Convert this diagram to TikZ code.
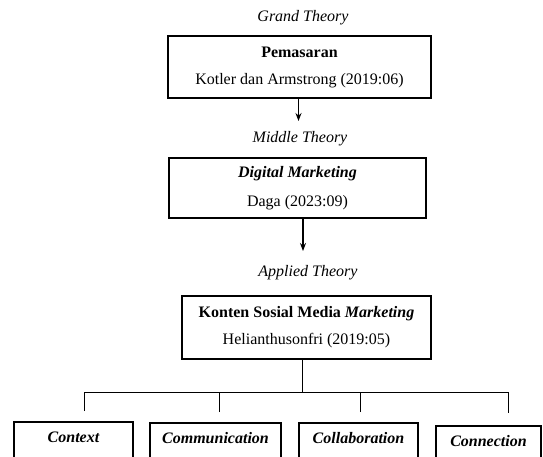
\documentclass[tikz,border=0pt]{standalone}
\usepackage{fontspec}
\setmainfont{Liberation Serif}
\usetikzlibrary{arrows.meta}
\begin{document}
\begin{tikzpicture}[x=1pt,y=-1pt,
  every node/.style={font=\fontsize{16}{19}\selectfont, inner sep=0pt},
  theorybox/.style={draw, line width=1.6pt, align=center},
  aspectbox/.style={draw, line width=1.6pt, anchor=north, text height=21pt, text depth=40pt,
    font=\fontsize{16}{19}\selectfont\bfseries\itshape},
  level/.style={font=\fontsize{16}{19}\selectfont\itshape},
  conn/.style={line width=1pt},
  arr/.style={line width=1.2pt, -{Stealth[length=8pt,width=6pt]}}
]
\useasboundingbox (0,0) rectangle (543,456);
\clip (0,0) rectangle (543,456);

% level labels
\node[level] (grand) at (303,18) {Grand Theory};
\node[level] (middle) at (300,139) {Middle Theory};
\node[level] (applied) at (308,273) {Applied Theory};

% theory boxes
\node[theorybox, minimum width=263pt, minimum height=62pt] (b1) at (299.5,67)
  {\textbf{Pemasaran}\\[8pt]Kotler dan Armstrong (2019:06)};
\node[theorybox, minimum width=257pt, minimum height=60pt] (b2) at (297.5,188)
  {\textbf{\textit{Digital Marketing}}\\[10pt]Daga (2023:09)};
\node[theorybox, minimum width=249pt, minimum height=63pt] (b3) at (306.5,327.5)
  {\textbf{Konten Sosial Media \textit{Marketing}}\\[8pt]Helianthusonfri (2019:05)};

% arrows
\coordinate (a1) at (298.5,121);
\coordinate (a2) at (303,251);
\draw[arr] (b1.south -| a1) -- (a1);
\draw[arr] (b2.south -| a2) -- (a2);

% aspect boxes
\node[aspectbox, minimum width=119pt] (ctx) at (73.5,421) {Context};
\node[aspectbox, minimum width=131pt] (com) at (215.5,422) {Communication};
\node[aspectbox, minimum width=119pt] (col) at (358.5,422) {Collaboration};
\node[aspectbox, minimum width=105pt] (con) at (488.5,425) {Connection};

% tree connectors
\coordinate (j) at (302,392);
\coordinate (d1) at (84,411);
\coordinate (d2) at (219,412);
\coordinate (d3) at (360,412);
\coordinate (d4) at (508,413);
\draw[conn] (b3.south -| j) -- (j);
\draw[conn] (d1) |- (j) -| (d4);
\draw[conn] (d2) -- (d2 |- j);
\draw[conn] (d3) -- (d3 |- j);
\end{tikzpicture}
\end{document}
